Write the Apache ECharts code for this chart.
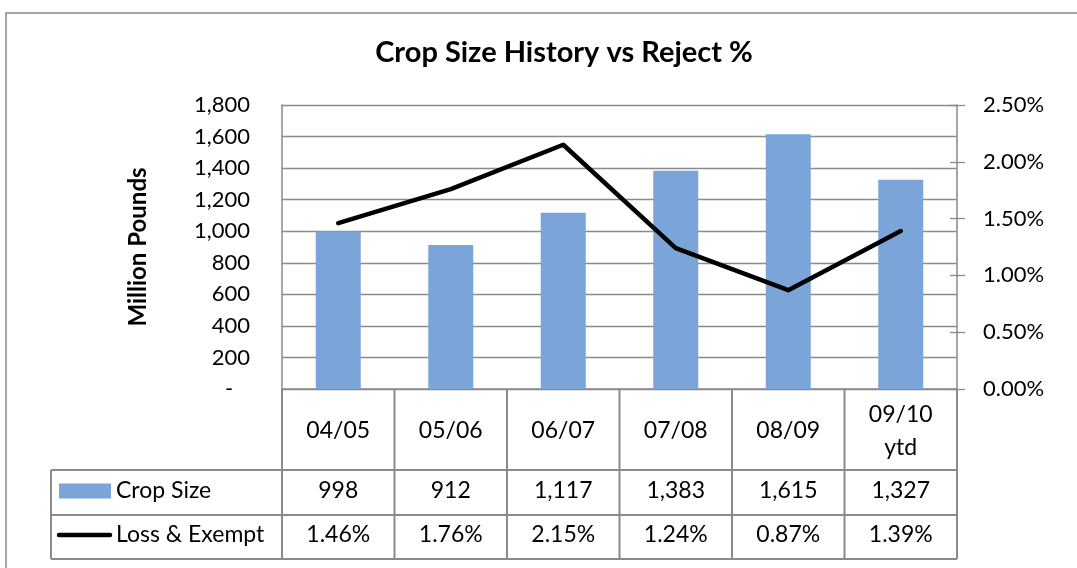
<!DOCTYPE html>
<html><head><meta charset="utf-8">
<script src="https://cdn.jsdelivr.net/npm/echarts@6/dist/echarts.min.js"></script>
<style>html,body{margin:0;padding:0;background:#fff}#c{width:1077px;height:568px}</style>
</head><body><div id="c"></div>
<script>
// ---- data ----
const titleText = 'Crop Size History vs Reject %';
const categories = ['04/05', '05/06', '06/07', '07/08', '08/09', '09/10\nytd'];
const cropSize = [998, 912, 1117, 1383, 1615, 1327];
const lossExempt = [1.46, 1.76, 2.15, 1.24, 0.87, 1.39]; // percent
const seriesNames = ['Crop Size', 'Loss & Exempt'];
const leftAxisName = 'Million Pounds';

// ---- style ----
const FONT = 'Lato, "Open Sans", sans-serif';
const FS = 23;
const GRID = '#8a8a8a';
const BAR = '#7ba5d8';
const plot = { left: 282, right: 957, top: 105, bottom: 389 };
const rows = [389, 470, 515, 559];
const tableLeft = 51;

const chart = echarts.init(document.getElementById('c'), null, { renderer: 'canvas' });
const option = {
  animation: false,
  backgroundColor: '#fff',
  grid: { left: plot.left, right: 1077 - plot.right, top: plot.top, bottom: 568 - plot.bottom, containLabel: false },
  xAxis: {
    type: 'category', data: categories, boundaryGap: true,
    axisLine: { show: true, lineStyle: { color: GRID, width: 1.5 } },
    axisTick: { show: false },
    axisLabel: { color: '#000', fontFamily: FONT, fontSize: FS, margin: 42, verticalAlign: 'middle', lineHeight: 33, interval: 0 },
    splitLine: { show: false }
  },
  yAxis: [
    {
      type: 'value', min: 0, max: 1800, interval: 200,
      name: leftAxisName, nameLocation: 'middle', nameRotate: 90, nameGap: 132,
      nameTextStyle: { fontFamily: FONT, fontWeight: 'bold', fontSize: 24, color: '#000' },
      axisLine: { show: true, lineStyle: { color: GRID, width: 1.5 } },
      axisTick: { show: false },
      axisLabel: { color: '#000', fontFamily: FONT, fontSize: 22, margin: 32,
        formatter: v => v === 0 ? '-   ' : v.toLocaleString('en-US') },
      splitLine: { show: true, lineStyle: { color: GRID, width: 1.3 } }
    },
    {
      type: 'value', min: 0, max: 2.5, interval: 0.5, position: 'right',
      axisLine: { show: true, lineStyle: { color: GRID, width: 1.5 } },
      axisTick: { show: true, inside: false, length: 8, lineStyle: { color: GRID, width: 1.3 } },
      axisLabel: { color: '#000', fontFamily: FONT, fontSize: 22, margin: 26, formatter: v => v.toFixed(2) + '%' },
      splitLine: { show: false }
    },
    {
      type: 'value', min: 0, max: 2.5, interval: 0.5, position: 'right',
      axisLine: { show: false },
      axisTick: { show: true, inside: true, length: 7, lineStyle: { color: GRID, width: 1.3 } },
      axisLabel: { show: false },
      splitLine: { show: false }
    }
  ],
  series: [
    { name: seriesNames[0], type: 'bar', data: cropSize, yAxisIndex: 0, barWidth: '40%',
      itemStyle: { color: BAR } },
    { name: seriesNames[1], type: 'line', data: lossExempt, yAxisIndex: 1, symbol: 'none',
      lineStyle: { color: '#000', width: 4.5, cap: 'round', join: 'round' }, z: 5 }
  ]
};
chart.setOption(option);

// ---- data table under the plot ----
const c0 = chart.convertToPixel({ xAxisIndex: 0 }, 0);
const c1 = chart.convertToPixel({ xAxisIndex: 0 }, 1);
const band = c1 - c0;
const TL = { stroke: GRID, lineWidth: 2 };
const g = [];
function line(x1, y1, x2, y2) { g.push({ type: 'line', shape: { x1, y1, x2, y2 }, style: TL, z: 10 }); }
function txt(text, x, y, align) {
  g.push({ type: 'text', z: 11, style: { text, x, y, align: align || 'center', verticalAlign: 'middle',
    fill: '#000', font: FS + 'px ' + FONT } });
}
// title
g.push({ type: 'text', z: 11, style: { text: titleText, x: 564, y: 53, align: 'center', verticalAlign: 'middle',
  fill: '#000', font: 'bold 29px ' + FONT } });
// outer border
g.push({ type: 'rect', shape: { x: 6, y: 13, width: 1100, height: 600 }, style: { fill: 'none', stroke: GRID, lineWidth: 1.5 }, z: 1 });
const tableRight = c0 - band / 2 + categories.length * band;
// vertical lines
for (let i = 0; i <= categories.length; i++) {
  const x = c0 - band / 2 + i * band;
  line(x, rows[0], x, rows[3]);
}
line(tableLeft, rows[1], tableLeft, rows[3]);
// horizontal lines
line(tableLeft, rows[1], tableRight, rows[1]);
line(tableLeft, rows[2], tableRight, rows[2]);
line(tableLeft, rows[3], tableRight, rows[3]);
// legend keys
const r1 = (rows[1] + rows[2]) / 2, r2 = (rows[2] + rows[3]) / 2;
g.push({ type: 'rect', shape: { x: 59, y: r1 - 9, width: 52, height: 15 }, style: { fill: BAR }, z: 11 });
g.push({ type: 'line', shape: { x1: 59, y1: r2 - 2, x2: 110, y2: r2 - 2 }, style: { stroke: '#000', lineWidth: 4.5, lineCap: 'round' }, z: 11 });
txt(seriesNames[0], 116, r1 - 2, 'left');
txt(seriesNames[1], 116, r2 - 2, 'left');
// cell values
categories.forEach((c, i) => {
  const x = chart.convertToPixel({ xAxisIndex: 0 }, i);
  txt(cropSize[i].toLocaleString('en-US'), x, r1 - 2);
  txt(lossExempt[i].toFixed(2) + '%', x, r2 - 2);
});
chart.setOption({ graphic: g });
</script>
</body></html>
